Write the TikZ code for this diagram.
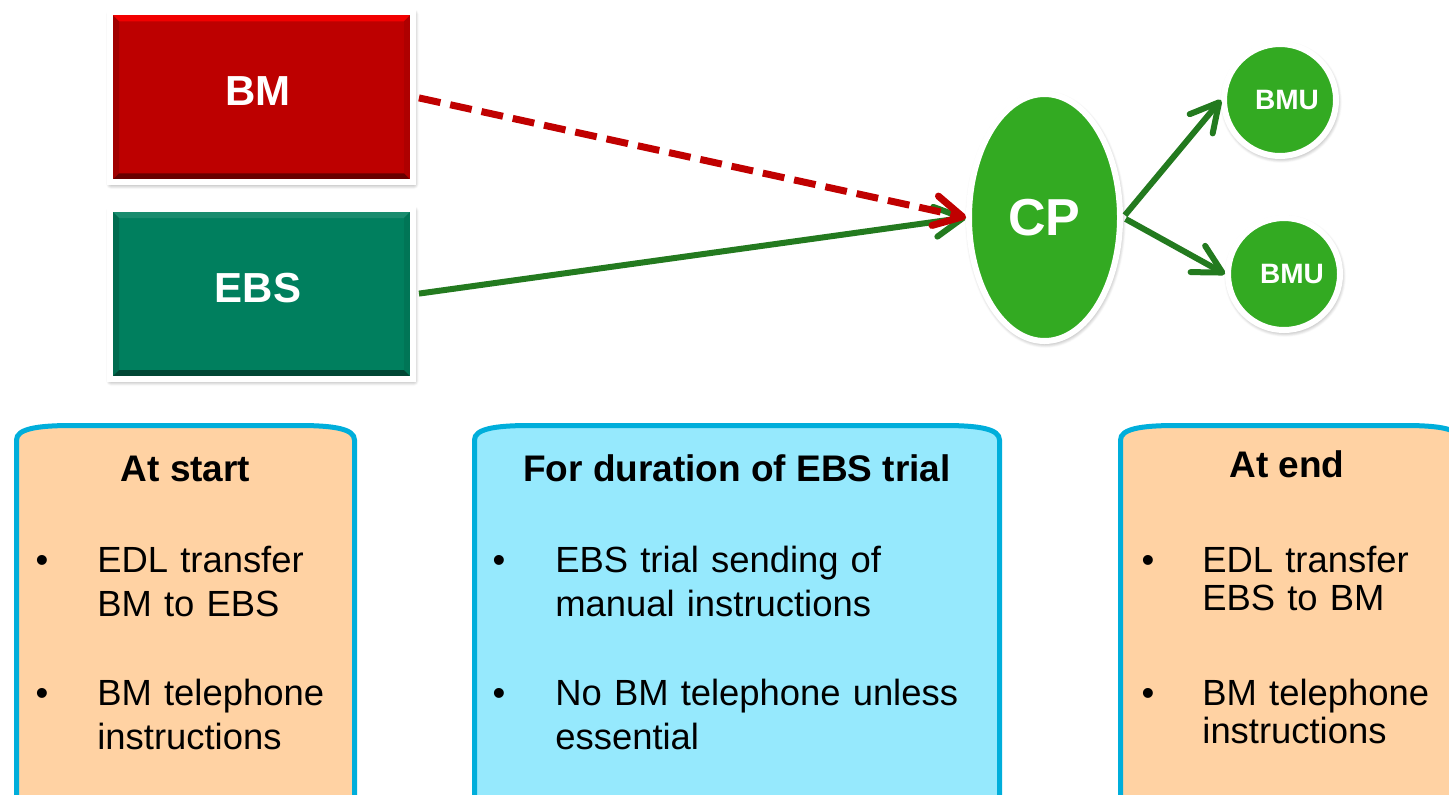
\documentclass[tikz,border=0pt]{standalone}
\usepackage{fontspec}
\setmainfont{Liberation Sans}
\usetikzlibrary{arrows.meta,shapes.geometric,shadows.blur}
\definecolor{bmred}{HTML}{BD0000}
\definecolor{ebsteal}{HTML}{007F5E}
\definecolor{cpgreen}{HTML}{33AA22}
\definecolor{linkgreen}{HTML}{237A1F}
\definecolor{linkred}{HTML}{C00000}
\definecolor{peach}{HTML}{FFD2A3}
\definecolor{skyfill}{HTML}{96E9FD}
\definecolor{panelline}{HTML}{00AEDB}
\tikzset{
  softshadow/.style={blur shadow={shadow xshift=0.5pt, shadow yshift=-1pt, shadow blur radius=2.5pt, shadow blur steps=8, shadow opacity=50}},
  bevel/.style n args={4}{path picture={
    \fill[#1] (path picture bounding box.north west) -- (path picture bounding box.north east)
      -- ([shift={(-4.5pt,-4.5pt)}]path picture bounding box.north east) -- ([shift={(4.5pt,-4.5pt)}]path picture bounding box.north west) -- cycle;
    \fill[#2] (path picture bounding box.north west) -- (path picture bounding box.south west)
      -- ([shift={(4.5pt,4.5pt)}]path picture bounding box.south west) -- ([shift={(4.5pt,-4.5pt)}]path picture bounding box.north west) -- cycle;
    \fill[#3] (path picture bounding box.north east) -- (path picture bounding box.south east)
      -- ([shift={(-4.5pt,4.5pt)}]path picture bounding box.south east) -- ([shift={(-4.5pt,-4.5pt)}]path picture bounding box.north east) -- cycle;
    \fill[#4] (path picture bounding box.south west) -- (path picture bounding box.south east)
      -- ([shift={(-4.5pt,4.5pt)}]path picture bounding box.south east) -- ([shift={(4.5pt,4.5pt)}]path picture bounding box.south west) -- cycle;
  }},
  unitbox/.style={draw=white, line width=3pt, minimum width=151.5pt, minimum height=85pt, inner sep=0pt, text depth=6pt, text=white, font=\fontsize{21}{24}\selectfont\bfseries, softshadow},
  cpnode/.style={ellipse, draw=white, line width=3pt, fill=cpgreen, minimum width=75.5pt, minimum height=123.5pt, inner sep=0pt, text=white, font=\fontsize{26}{30}\selectfont\bfseries, softshadow},
  bmunode/.style={circle, draw=white, line width=3pt, fill=cpgreen, minimum size=56pt, inner sep=0pt, text=white, font=\fontsize{14}{16}\selectfont\bfseries, softshadow},
  greenlink/.style={linkgreen, line width=3pt, shorten <=1.5pt, -{Straight Barb[length=14pt,width=15pt,round]}},
  redlink/.style={linkred, line width=3.5pt, dash pattern=on 11pt off 5pt, shorten <=1.5pt, -{Straight Barb[length=14pt,width=15pt,round]}},
  panel/.style={draw=panelline, line width=2.5pt},
  paneltitle/.style={anchor=base, inner sep=0pt, font=\fontsize{18.5}{22}\selectfont\bfseries},
  bulletdot/.style={anchor=base, inner sep=0pt, font=\fontsize{18.2}{22}\selectfont},
  paneltext/.style={anchor=base west, inner sep=0pt, align=left, text width=230pt, font=\fontsize{18.2}{22}\selectfont},
}
\begin{document}
\begin{tikzpicture}[x=0.5pt, y=-0.5pt]
 \useasboundingbox (0,0) rectangle (1449,794);
 % panels at the bottom
 \foreach \l/\r/\c in {16.5/354.5/peach, 474.5/999.5/skyfill, 1120.5/1460/peach}
 {
     \draw[panel, fill=\c] (\l,830) -- (\l,440) .. controls (\l,429) and (\l+20,425.5) .. (\l+55,425.5)
       -- (\r-55,425.5) .. controls (\r-20,425.5) and (\r,429) .. (\r,440) -- (\r,830);
 }
 % boxes and ovals
 \node[unitbox, fill=bmred, bevel={red!80!bmred}{black!15!bmred}{black!8!bmred}{black!45!bmred}] (bm) at (261.5,97.25) {BM\hspace*{3.5pt}};
 \node[unitbox, fill=ebsteal, bevel={white!10!ebsteal}{black!15!ebsteal}{black!8!ebsteal}{black!45!ebsteal}] (ebs) at (261.5,294) {EBS\hspace*{3.5pt}};
 \node[cpnode] (cp) at (1044.5,217.5) {CP};
 \node[bmunode] (bmuA) at (1280,100) {\hspace*{7pt}BMU};
 \node[bmunode] (bmuB) at (1284,274) {\hspace*{8pt}BMU};
 % links
 \draw[greenlink] (ebs.east) -- (cp.west);
 \draw[redlink] (bm.east) -- (cp.west);
 \draw[greenlink] (cp.east) -- (bmuA.west);
 \draw[greenlink] (cp.east) -- (bmuB.west);
 % panel texts
 \node[paneltitle] (starttitle) at (185.5,481) {At start};
 \node[bulletdot] (startdotA) at (42,572) {•};
 \node[paneltext] (startA) at (97,572) {EDL transfer\\BM to EBS};
 \node[bulletdot] (startdotB) at (42,705) {•};
 \node[paneltext] (startB) at (97,705) {BM telephone\\instructions};
 \node[paneltitle] (trialtitle) at (737,481) {For duration of EBS trial};
 \node[bulletdot] (trialdotA) at (499,572) {•};
 \node[paneltext] (trialA) at (555,572) {EBS trial sending of\\manual instructions};
 \node[bulletdot] (trialdotB) at (499,705) {•};
 \node[paneltext] (trialB) at (555,705) {No BM telephone unless\\essential};
 \node[paneltitle] (endtitle) at (1287,477) {At end};
 \node[bulletdot] (enddotA) at (1148,572) {•};
 \node[paneltext, font=\fontsize{18.2}{19}\selectfont] (endA) at (1202,572) {EDL transfer\\EBS to BM};
 \node[bulletdot] (enddotB) at (1148,705) {•};
 \node[paneltext, font=\fontsize{18.2}{19}\selectfont] (endB) at (1202,705) {BM telephone\\instructions};
\end{tikzpicture}
\end{document}
